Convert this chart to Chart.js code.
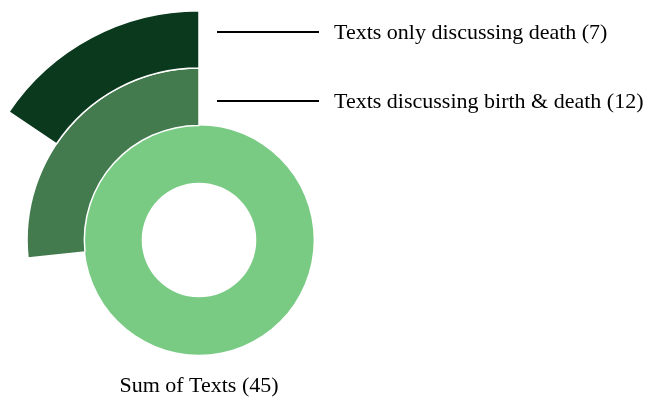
<!DOCTYPE html>
<html>
<head>
<meta charset="utf-8">
<script src="https://cdn.jsdelivr.net/npm/chart.js@4"></script>
<style>
    html, body { margin: 0; padding: 0; background: #fff; overflow: hidden; }
    body { width: 649px; height: 401px; position: relative; }
    #grafikTeks { position: absolute; left: -31px; top: 0; }
</style>
</head>
<body>
<canvas id="grafikTeks" width="680" height="480"></canvas>
<script>
// data (luar -> dalam)
const kategori = ['Texts only discussing death', 'Texts discussing birth & death', 'Sum of Texts'];
const nilai = [7, 12, 45];
const totalTeks = 45;
const warna = ['#0b391e', '#437b4f', '#79cb84'];

const geser = 31; // canvas digeser ke kiri

let datasets = [];
for (let i = 0; i < nilai.length; i++) {
    let penuh = nilai[i] >= totalTeks;
    datasets.push({
        label: kategori[i],
        data: [totalTeks - nilai[i], nilai[i]],
        backgroundColor: ['rgba(0,0,0,0)', warna[i]],
        borderColor: '#ffffff',
        borderWidth: [0, penuh ? 0 : 1.5]
    });
}

const labelPlugin = {
    id: 'labelTeks',
    afterDraw: function (chart) {
        let ctx = chart.ctx;
        ctx.save();
        ctx.font = '22px "Liberation Serif", "Times New Roman", serif';
        ctx.fillStyle = '#000';
        ctx.strokeStyle = '#000';
        ctx.lineWidth = 2;
        let posY = [32, 101];
        for (let i = 0; i < 2; i++) {
            ctx.beginPath();
            ctx.moveTo(217 + geser, posY[i]);
            ctx.lineTo(319 + geser, posY[i]);
            ctx.stroke();
            ctx.textAlign = 'left';
            ctx.textBaseline = 'alphabetic';
            ctx.fillText(kategori[i] + ' (' + nilai[i] + ')', 334 + geser, posY[i] + 7);
        }
        ctx.textAlign = 'center';
        ctx.fillText(kategori[2] + ' (' + nilai[2] + ')', 199 + geser, 392);
        ctx.restore();
    }
};

new Chart(document.getElementById('grafikTeks'), {
    type: 'doughnut',
    data: {
        labels: ['', ''],
        datasets: datasets
    },
    options: {
        responsive: false,
        animation: false,
        cutout: '25%',
        events: [],
        layout: {
            padding: { left: 0, top: 10, right: 220, bottom: 10 }
        },
        plugins: {
            legend: { display: false },
            tooltip: { enabled: false }
        }
    },
    plugins: [labelPlugin]
});
</script>
</body>
</html>
